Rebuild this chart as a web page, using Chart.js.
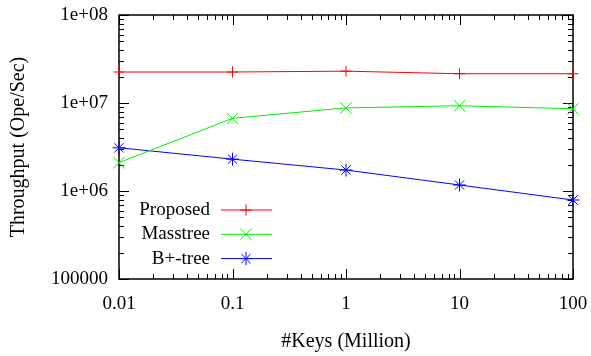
<!DOCTYPE html>
<html>
<head>
<meta charset="utf-8">
<script src="https://cdn.jsdelivr.net/npm/chart.js@4"></script>
<style>
  body { margin: 0; background: #fff; }
  canvas { display: block; }
</style>
</head>
<body>
<canvas id="chart" width="591" height="356"></canvas>
<script>
// Data (log-log)
const keys = [0.01, 0.1, 1, 10, 100];
const proposed = [2.25e7, 2.25e7, 2.3e7, 2.15e7, 2.15e7];
const masstree = [2.1e6, 6.7e6, 8.8e6, 9.3e6, 8.6e6];
const bptree = [3.1e6, 2.3e6, 1.73e6, 1.17e6, 7.9e5];

const xTicks = [0.01, 0.1, 1, 10, 100];
const xTickLabels = ['0.01', '0.1', '1', '10', '100'];
const yTicks = [1e5, 1e6, 1e7, 1e8];
const yTickLabels = ['100000', '1e+06', '1e+07', '1e+08'];

const FONT = "'Liberation Serif', 'DejaVu Serif', serif";
const pts = vals => keys.map((k, i) => ({ x: k, y: vals[i] }));

// gnuplot style frame with inward major/minor ticks on all four sides
const frameTicks = {
  id: 'frameTicks',
  beforeDatasetsDraw(chart) {
    const { ctx, chartArea: a, scales: { x, y } } = chart;
    ctx.save();
    ctx.strokeStyle = '#000';
    ctx.lineWidth = 1;
    ctx.beginPath();
    for (let d = -2; d <= 2; d++) {
      for (let m = 1; m <= 9; m++) {
        const v = m * Math.pow(10, d);
        if (v > 100.0001) break;
        const px = Math.round(x.getPixelForValue(v)) + 0.5;
        const len = m === 1 ? 10 : 5;
        ctx.moveTo(px, a.bottom); ctx.lineTo(px, a.bottom - len);
        ctx.moveTo(px, a.top); ctx.lineTo(px, a.top + len);
      }
    }
    for (let d = 5; d <= 8; d++) {
      for (let m = 1; m <= 9; m++) {
        const v = m * Math.pow(10, d);
        if (v > 1.0001e8) break;
        const py = Math.round(y.getPixelForValue(v)) + 0.5;
        const len = m === 1 ? 10 : 5;
        ctx.moveTo(a.left, py); ctx.lineTo(a.left + len, py);
        ctx.moveTo(a.right, py); ctx.lineTo(a.right - len, py);
      }
    }
    ctx.stroke();
    ctx.lineWidth = 1.5;
    ctx.strokeRect(a.left, a.top, a.right - a.left, a.bottom - a.top);
    ctx.restore();
  }
};

// legend inside the plot, bottom-left, text right-aligned before the sample
const insideLegend = {
  id: 'insideLegend',
  afterDatasetsDraw(chart) {
    const { ctx, chartArea: a } = chart;
    ctx.save();
    ctx.font = '19px ' + FONT;
    ctx.textAlign = 'right';
    ctx.textBaseline = 'middle';
    chart.data.datasets.forEach((ds, i) => {
      const yy = a.bottom - 69 + i * 24.3;
      ctx.fillStyle = '#000';
      ctx.fillText(ds.label, a.left + 91, yy);
      ctx.strokeStyle = ds.borderColor;
      ctx.lineWidth = 1;
      ctx.beginPath();
      ctx.moveTo(a.left + 102, yy);
      ctx.lineTo(a.left + 153, yy);
      ctx.stroke();
      Chart.helpers.drawPoint(ctx, {
        pointStyle: ds.pointStyle, radius: ds.pointRadius, rotation: 0,
        borderWidth: 1
      }, a.left + 127, yy);
    });
    ctx.restore();
  }
};

const ds = (label, vals, color, style, r) => ({
  label, data: pts(vals), borderColor: color, backgroundColor: color,
  borderWidth: 1, pointStyle: style, pointRadius: r, pointBorderWidth: 1,
  pointBorderColor: color, tension: 0, clip: false
});

new Chart(document.getElementById('chart').getContext('2d'), {
  type: 'line',
  data: {
    datasets: [
      ds('Proposed', proposed, '#ff0000', 'cross', 5.5),
      ds('Masstree', masstree, '#00ee00', 'crossRot', 8),
      ds('B+-tree', bptree, '#0000ff', 'star', 6.5)
    ]
  },
  options: {
    responsive: false,
    animation: false,
    devicePixelRatio: 1,
    layout: { padding: { top: 15, right: 18, left: 0, bottom: 0 } },
    plugins: { legend: { display: false }, tooltip: { enabled: false } },
    scales: {
      x: {
        type: 'logarithmic',
        min: 0.01,
        max: 100,
        afterFit: s => { s.height = 77; s.paddingLeft = 0; s.paddingRight = 0; },
        afterBuildTicks: s => { s.ticks = xTicks.map(v => ({ value: v })); },
        grid: { display: false, drawTicks: false },
        border: { display: false },
        ticks: {
          color: '#000', padding: 14, maxRotation: 0, autoSkip: false,
          font: { family: FONT, size: 19 },
          callback: (v, i) => xTickLabels[i]
        },
        title: {
          display: true, text: '#Keys (Million)', color: '#000',
          font: { family: FONT, size: 20 }, padding: { top: 0, bottom: 2 }
        }
      },
      y: {
        type: 'logarithmic',
        min: 1e5,
        max: 1e8,
        afterFit: s => { s.width = 119; s.paddingTop = 0; s.paddingBottom = 0; },
        afterBuildTicks: s => { s.ticks = yTicks.map(v => ({ value: v })); },
        grid: { display: false, drawTicks: false },
        border: { display: false },
        ticks: {
          color: '#000', padding: 11, autoSkip: false,
          font: { family: FONT, size: 19 },
          callback: (v, i) => yTickLabels[i]
        },
        title: {
          display: true, text: 'Throughput (Ope/Sec)', color: '#000',
          font: { family: FONT, size: 20 }, padding: { top: 7, bottom: 0 }
        }
      }
    }
  },
  plugins: [frameTicks, insideLegend]
});
</script>
</body>
</html>
